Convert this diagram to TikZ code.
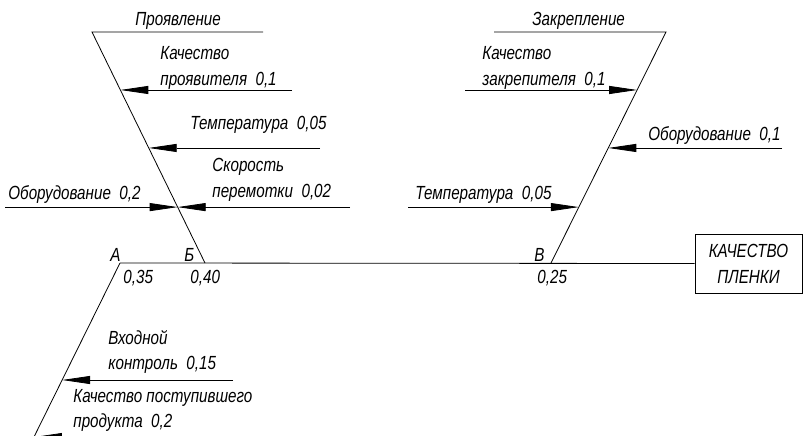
\documentclass[tikz,border=0pt]{standalone}
\usepackage{fontspec}
\setmainfont{Liberation Sans}[FakeStretch=0.8]
\usepackage{tikz}
\usetikzlibrary{calc, arrows.meta}
\tikzstyle{texte} = [inner sep=0pt, anchor=base west, align=left, font=\itshape\fontsize{19}{26}\selectfont]
\tikzstyle{fleche} = [-{Triangle[length=28pt, width=8pt]}]
\tikzstyle{cadre} = [rectangle, draw=black, minimum height=59pt, minimum width=107pt, text width=100pt, text centered, font=\itshape\fontsize{19}{26}\selectfont]

\begin{document}
\begin{tikzpicture}[x=1pt, y=-1pt, line width=0.8pt]
    \useasboundingbox (0,0) rectangle (803,436);
    \clip (0,0) rectangle (803,436);

    %% качество пленки
    \node (film) [cadre] at (748.5,263.5) {КАЧЕСТВО\\ПЛЕНКИ};
    \coordinate (A) at (120,263);
    \draw (A) -- (film.west);

    %% проявление
    \coordinate (P0) at (92,32);
    \coordinate (P1) at (263,32);
    \coordinate (B) at (205,263);
    \draw (P1) -- (P0) -- (B);
    \node (proyavl) [texte] at (135,26) {Проявление};
    \coordinate (pb1) at ($(P0)!0.251!(B)$);
    \coordinate (pb2) at ($(P0)!0.502!(B)$);
    \coordinate (pb3) at ($(P0)!0.758!(B)$);
    \coordinate (pa1) at (pb1 -| 292,0);
    \coordinate (pa2) at (pb2 -| 320,0);
    \coordinate (pa3) at (pb3 -| 350,0);
    \coordinate (pa4) at (pb3 -| 5,0);
    \draw[fleche] (pa1) -- (pb1);
    \draw[fleche] (pa2) -- (pb2);
    \draw[fleche] (pa3) -- (pb3);
    \draw[fleche] (pa4) -- (pb3);
    \node (kachp) [texte] at (160,85) {Качество\\проявителя\ \ 0,1};
    \node (tempp) [texte] at (190,129) {Температура\ \ 0,05};
    \node (skor) [texte] at (212,197) {Скорость\\перемотки\ \ 0,02};
    \node (oborp) [texte] at (8,199) {Оборудование\ \ 0,2};

    %% закрепление
    \coordinate (Z0) at (666,32);
    \coordinate (Z1) at (494,32);
    \coordinate (V) at (551,263);
    \draw (Z1) -- (Z0) -- (V);
    \node (zakrepl) [texte] at (532,26) {Закрепление};
    \coordinate (zb1) at ($(Z0)!0.251!(V)$);
    \coordinate (zb2) at ($(Z0)!0.502!(V)$);
    \coordinate (zb3) at ($(Z0)!0.758!(V)$);
    \coordinate (za1) at (zb1 -| 465,0);
    \coordinate (za2) at (zb2 -| 782,0);
    \coordinate (za3) at (zb3 -| 408,0);
    \draw[fleche] (za1) -- (zb1);
    \draw[fleche] (za2) -- (zb2);
    \draw[fleche] (za3) -- (zb3);
    \node (kachz) [texte] at (482,85) {Качество\\закрепителя\ \ 0,1};
    \node (oborz) [texte] at (648,140) {Оборудование\ \ 0,1};
    \node (tempz) [texte] at (415,199) {Температура\ \ 0,05};

    %% входной контроль
    \coordinate (A1) at (31,443);
    \draw (A) -- (A1);
    \coordinate (ab1) at ($(A)!0.65!(A1)$);
    \coordinate (ab2) at ($(A)!0.967!(A1)$);
    \coordinate (aa1) at (ab1 -| 233,0);
    \coordinate (aa2) at (ab2 -| 233,0);
    \draw[fleche] (aa1) -- (ab1);
    \draw[fleche] (aa2) -- (ab2);
    \node (vhod) [texte] at (108,369) {Входной\\[-1pt]контроль\ \ 0,15};
    \node (postup) [texte] at (73,427) {Качество поступившего\\[-1pt]продукта\ \ 0,2};

    %% точки
    \node (la) [texte] at (110,261) {А};
    \node (lb) [texte] at (184,261) {Б};
    \node (lv) [texte] at (534,261) {В};
    \node (va) [texte] at (123,283) {0,35};
    \node (vb) [texte] at (190,283) {0,40};
    \node (vv) [texte] at (537,283) {0,25};
\end{tikzpicture}
\end{document}
